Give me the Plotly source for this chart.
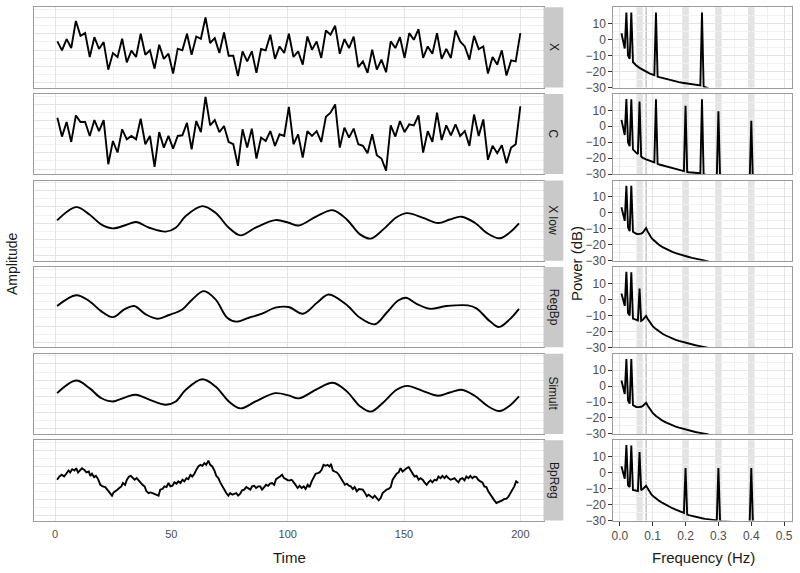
import plotly.graph_objects as go

# ---------------- data ----------------
panel_names = ["X", "C", "X low", "RegBp", "Simult", "BpReg"]

time_101 = [round(1 + k * 1.99, 2) for k in range(101)]

x_vals = [0.53, -0.02, 0.67, 0.12, 1.79, 0.87, 1.04, -0.43, 0.79, 0.06,
          0.49, -1.21, -0.19, -0.43, 0.69, -0.76, -0.04, -0.43, 1.00, -0.29,
          -0.02, -1.15, 0.32, -0.55, -0.23, -1.45, 0.08, -0.02, 1.00, -0.29,
          0.83, 0.69, 2.00, 0.43, 0.73, -0.19, 1.08, -0.35, -0.35, -1.61,
          -0.08, -0.70, -0.08, -1.41, 0.06, -0.02, 0.94, -0.55, 0.22, -0.19,
          1.00, -0.43, -0.08, -0.90, 0.83, 0.02, 0.53, -0.49, 1.20, 0.94,
          1.49, -0.23, 0.67, 0.12, 0.83, -1.06, -0.70, -1.41, 0.02, -1.21,
          -0.59, -1.37, 0.53, 0.12, 0.79, -0.49, 1.04, 0.63, 1.28, -0.49,
          0.22, -0.23, 1.04, -0.55, 0.06, -0.49, 1.20, 0.53, 0.22, -0.59,
          0.87, 0.06, 0.22, -1.45, -0.43, -0.90, -0.02, -1.57, -0.64, -0.70,
          1.04]

c_vals = [1.16, 0.00, 0.90, -0.33, 1.30, 0.90, 0.90, 0.04, 1.02, 0.34,
          1.02, -1.70, -0.27, -0.98, 0.45, -0.17, 0.04, -0.17, 1.10, -0.47,
          0.04, -1.86, 0.28, -0.68, 0.04, -0.74, 0.04, 0.08, 0.85, -0.78,
          0.96, 0.28, 2.45, 0.69, 1.02, 0.28, 0.65, -0.33, -0.47, -1.80,
          0.45, -0.68, 0.49, -1.35, -0.06, -0.27, 0.34, -0.57, 0.14, 0.04,
          1.83, -0.47, 0.14, -1.29, 0.34, 0.04, 0.34, -0.33, 1.22, 1.47,
          1.98, -0.68, 0.55, -0.06, 0.49, -0.47, -0.57, -1.02, 0.14, -1.15,
          -1.35, -2.10, 0.69, 0.00, 0.96, 0.28, 0.75, 0.69, 1.30, -0.98,
          0.34, -0.33, 1.47, -0.21, 0.69, 0.08, 0.75, 0.04, 0.34, -0.57,
          1.36, 0.04, 1.06, -1.43, -0.57, -1.02, -0.53, -1.64, -0.68, -0.47,
          1.87]

smooth_t = [0.9, 9.1, 14.8, 19.8, 24.8, 30.5, 34.8, 40.5, 47.6, 51.9, 56.2, 63.3,
            69.0, 74.7, 79.7, 86.2, 94.7, 100.4, 104.7, 112.6, 119.4, 125.4, 131.1,
            135.7, 141.1, 146.8, 151.4, 158.2, 164.7, 169.7, 174.7, 180.4, 186.1,
            191.1, 195.4, 199.4]
xlow_vals = [0.17, 0.99, 0.54, -0.07, -0.32, -0.11, 0.07, -0.28, -0.52, -0.28, 0.44, 1.05,
             0.64, -0.28, -0.75, -0.28, 0.19, 0.03, -0.14, 0.44, 0.80, 0.23, -0.69,
             -0.95, -0.38, 0.37, 0.62, 0.33, 0.01, 0.23, 0.40, 0.03, -0.65,
             -0.93, -0.58, -0.01]
simult_vals = [0.20, 0.98, 0.51, -0.10, -0.31, -0.04, 0.10, -0.20, -0.51, -0.31, 0.41, 1.06,
               0.61, -0.31, -0.74, -0.31, 0.20, 0.06, -0.12, 0.45, 0.84, 0.31, -0.61,
               -0.94, -0.37, 0.41, 0.65, 0.33, 0.04, 0.24, 0.41, 0.04, -0.61,
               -0.90, -0.57, 0.00]

regbp_t = [0.9, 9.1, 14.8, 19.8, 24.8, 29.8, 34.0, 39.0, 44.0, 49.0, 54.7, 59.0, 64.0,
           69.0, 74.0, 77.9, 83.3, 89.0, 94.7, 100.4, 106.6, 112.6, 117.6, 125.4, 131.1,
           137.5, 142.5, 147.5, 150.8, 155.4, 161.1, 168.2, 177.5, 181.1, 186.8, 190.8,
           195.4, 199.4]
regbp_vals = [0.23, 0.90, 0.53, -0.08, -0.45, 0.02, 0.23, -0.28, -0.55, -0.32, 0.02, 0.64, 1.15,
              0.64, -0.49, -0.73, -0.49, -0.24, 0.13, 0.17, -0.24, 0.43, 0.94, 0.29, -0.49,
              -0.89, -0.18, 0.57, 0.74, 0.37, 0.06, 0.23, 0.27, 0.09, -0.69, -1.06,
              -0.59, 0.06]

bpreg_t = [0.9, 1.9, 2.9, 3.9, 4.8, 5.8, 6.5, 7.4, 8.4, 9.1, 9.9, 10.8, 11.6, 12.6, 13.5, 14.5,
           15.2, 15.9, 16.8, 17.6, 18.5, 19.5, 20.5, 21.6, 22.6, 23.6, 24.5, 25.2, 25.9, 26.8,
           27.6, 28.5, 29.2, 30.1, 30.9, 31.8, 32.6, 33.3, 34.2, 35.1, 35.9, 36.8, 37.6, 38.5,
           39.3, 40.2, 41.0, 41.9, 42.8, 43.6, 44.5, 45.2, 46.2, 47.0, 47.9, 48.8, 49.6, 50.5,
           51.3, 52.2, 53.0, 53.9, 54.8, 55.6, 56.5, 57.3, 58.2, 59.0, 59.9, 60.7, 61.6, 62.5,
           63.3, 64.2, 65.0, 65.9, 66.7, 67.6, 68.5, 69.3, 70.2, 71.0, 71.9, 72.7, 73.6, 74.5,
           75.3, 76.2, 77.0, 77.9, 78.7, 79.6, 80.4, 81.3, 82.2, 83.0, 83.9, 84.7, 85.6, 86.4,
           87.3, 88.2, 89.0, 89.9, 90.7, 91.6, 92.4, 93.3, 94.2, 95.0, 95.9, 96.7, 97.6, 98.4,
           99.3, 100.1,
           100.9, 101.7, 102.6, 103.4, 104.3, 105.1, 106.0, 106.9, 107.7, 108.6, 109.4, 110.3,
           111.1, 112.0, 112.9, 113.7, 114.6, 115.4, 116.3, 117.1, 118.0, 118.6, 119.4, 120.3,
           121.1, 122.0, 122.8, 123.7, 124.6, 125.4, 126.3, 127.1, 128.0, 128.8, 129.7, 130.6,
           131.4, 132.3, 133.1, 134.0, 134.8, 135.7, 136.6, 137.4, 138.3, 139.1, 140.0, 140.8,
           141.7, 142.5, 143.4, 144.3, 145.1, 146.0, 146.8, 147.7, 148.5, 149.4, 150.3, 151.1,
           152.0, 152.8, 153.7, 154.5, 155.4, 156.3, 157.1, 158.0, 158.8, 159.7, 160.5, 161.4,
           162.2, 163.1, 164.0, 164.8, 165.7, 166.5, 167.4, 168.2, 169.1, 170.0, 170.8, 171.7,
           172.5, 173.4, 174.2, 175.1, 176.0, 176.8, 177.7, 178.5, 179.4, 180.2, 181.1, 181.9,
           182.8, 183.7, 184.5, 185.4, 186.2, 187.1, 187.9, 188.8, 189.7, 190.5, 191.4, 192.2,
           193.1, 193.9, 194.8, 195.7, 196.5, 197.4, 198.2, 199.1]
bpreg_vals = [0.20, 0.40, 0.51, 0.40, 0.57, 0.77, 0.65, 0.85, 0.77, 0.91, 0.65, 0.77, 0.91, 0.81,
              0.65, 0.71, 0.44, 0.57, 0.36, 0.44, 0.24, -0.11, -0.21, -0.25, -0.41, -0.62, -0.78,
              -0.58, -0.52, -0.41, -0.31, -0.21, 0.00, -0.11, 0.20, 0.40, 0.44, 0.34, 0.20, 0.30,
              0.16, 0.04, -0.11, -0.21, -0.51, -0.62, -0.58, -0.62, -0.66, -0.72, -0.78, -0.41,
              -0.37, -0.21, -0.25, 0.00, -0.21, -0.17, 0.04, -0.04, 0.10, 0.00, 0.20, 0.10, 0.30,
              0.24, 0.51, 0.40, 0.57, 0.81, 1.02, 1.12, 1.06, 1.22, 1.12, 1.38, 1.12, 1.02, 0.77,
              0.44, 0.30, 0.04, -0.21, -0.41, -0.62, -0.78, -0.62, -0.72, -0.66, -0.62, -0.78,
              -0.66, -0.45, -0.41, -0.25, -0.31, -0.41, -0.21, -0.17, -0.31, -0.21, -0.21, -0.41,
              -0.25, -0.11, -0.17, -0.04, 0.00, -0.11, 0.24, 0.30, 0.40, 0.51, 0.30, 0.24, 0.16,
              0.16, 0.20, 0.04, -0.11, -0.31, -0.17, -0.31, -0.21, -0.37, -0.11, -0.25, 0.10,
              0.30, 0.57, 0.61, 0.65, 0.81, 1.12, 1.06, 1.12, 1.02, 1.18, 0.77, 0.71, 0.65, 0.51,
              0.30, 0.10, -0.11, -0.04, -0.17, -0.21, -0.37, -0.25, -0.51, -0.37, -0.41, -0.41,
              -0.58, -0.82, -0.72, -0.82, -0.92, -0.78, -0.92, -1.07, -0.92, -0.62, -0.51, -0.41,
              -0.37, -0.25, 0.20, 0.40, 0.57, 0.65, 0.91, 0.71, 0.85, 0.91, 0.98, 0.81, 0.61,
              0.40, 0.44, 0.20, 0.30, 0.20, 0.04, -0.11, 0.04, 0.16, 0.04, 0.20, 0.16, 0.40, 0.30,
              0.44, 0.30, 0.44, 0.30, 0.20, 0.24, 0.30, 0.16, 0.04, 0.24, 0.30, 0.16, 0.40, 0.30,
              0.44, 0.30, 0.40, 0.36, 0.20, 0.10, 0.04, -0.21, -0.25, -0.51, -0.72, -0.82, -1.07,
              -1.23, -1.19, -1.13, -1.07, -0.98, -0.98, -0.86, -0.62, -0.41, -0.21, 0.10, 0.00]

# spectra (frequency in Hz, power in dB)
f_x = [0.005, 0.01, 0.015, 0.02, 0.025, 0.03, 0.035, 0.04, 0.045, 0.05, 0.06, 0.07, 0.08,
       0.09, 0.1, 0.105, 0.11, 0.115, 0.12, 0.13, 0.14, 0.15, 0.16, 0.17, 0.18, 0.19, 0.2,
       0.21, 0.22, 0.23, 0.24, 0.245, 0.25, 0.255, 0.26, 0.265, 0.27]
p_x = [4.0, -1.0, -5.5, 17.0, -10.0, -12.0, 17.0, -14.0, -15.2, -16.2, -17.7, -19.0, -20.1,
       -21.1, -21.9, -22.3, 17.0, -23.2, -23.5, -24.1, -24.7, -25.2, -25.7, -26.2, -26.6, -27.0,
       -27.4, -27.7, -28.0, -28.3, -28.6, -28.7, 17.0, -29.4, -29.8, -30.2, -30.6]

f_c = [0.005, 0.01, 0.015, 0.02, 0.025, 0.03, 0.035, 0.04, 0.045, 0.05, 0.055, 0.06, 0.065,
       0.07, 0.08, 0.09, 0.1, 0.105, 0.11, 0.115, 0.12, 0.13, 0.14, 0.15, 0.16, 0.17, 0.18,
       0.19, 0.195, 0.2, 0.205, 0.21, 0.22, 0.23, 0.24, 0.245, 0.25, 0.255, 0.26, 0.27, 0.28,
       0.29, 0.295, 0.3, 0.305, 0.31, 0.35, 0.39, 0.395, 0.4, 0.405, 0.41]
p_c = [4.0, -1.0, -5.5, 17.0, -10.0, -12.5, 17.0, -14.5, -15.8, -16.7, -17.4, 15.5, -19.0,
       -19.8, -20.8, -21.7, -22.4, -22.7, 17.0, -23.6, -24.0, -24.6, -25.2, -25.8, -26.3,
       -26.8, -27.3, -27.8, -28.1, 12.9, -28.6, -28.8, -29.0, -29.2, -29.4, -29.5, 17.0,
       -30.2, -30.4, -30.8, -31.2, -31.5, -31.7, 9.4, -32.0, -32.2, -33.5, -34.5, -34.6, 3.4,
       -34.8, -35.0]

f_low = [0.005, 0.01, 0.015, 0.02, 0.025, 0.03, 0.035, 0.04, 0.045, 0.05, 0.055, 0.06, 0.065,
         0.07, 0.075, 0.08, 0.085, 0.09, 0.095, 0.1, 0.11, 0.12, 0.13, 0.14, 0.15, 0.16, 0.17,
         0.18, 0.19, 0.2, 0.21, 0.22, 0.23, 0.24, 0.25, 0.26, 0.27]
p_xlow = [3.5, -1.0, -5.0, 17.0, -9.0, -11.5, 17.0, -11.8, -12.6, -13.1, -13.3, -13.3, -13.0,
          -12.3, -11.2, -9.6, -11.8, -13.8, -15.3, -16.6, -18.6, -20.2, -21.5, -22.6, -23.6,
          -24.5, -25.3, -26.0, -26.6, -27.2, -27.7, -28.2, -28.7, -29.1, -29.6, -30.0, -30.4]
p_regbp = [3.7, -0.5, -4.0, 17.3, -8.5, -10.0, 17.0, -12.0, -12.5, -12.9, -13.2, 6.8, -13.4,
           -12.8, -11.8, -10.3, -12.2, -14.0, -15.4, -16.7, -18.6, -20.2, -21.5, -22.6, -23.6,
           -24.5, -25.3, -26.0, -26.6, -27.2, -27.7, -28.2, -28.7, -29.1, -29.6, -30.0, -30.4]
p_simult = [3.5, -1.0, -5.0, 17.0, -9.0, -11.0, 17.0, -12.0, -12.7, -13.1, -13.2, -13.2, -13.0,
            -12.5, -11.7, -10.5, -12.3, -14.1, -15.6, -16.8, -18.8, -20.4, -21.7, -22.8, -23.8,
            -24.6, -25.4, -26.1, -26.7, -27.3, -27.8, -28.3, -28.8, -29.2, -29.6, -30.0, -30.4]

f_bpreg = [0.005, 0.01, 0.015, 0.02, 0.025, 0.03, 0.035, 0.04, 0.045, 0.05, 0.055, 0.06, 0.065,
           0.07, 0.075, 0.08, 0.085, 0.09, 0.095, 0.1, 0.11, 0.12, 0.13, 0.14, 0.15, 0.16, 0.17,
           0.18, 0.19, 0.195, 0.2, 0.205, 0.21, 0.22, 0.23, 0.24, 0.25, 0.26, 0.27, 0.28, 0.29,
           0.295, 0.3, 0.305, 0.31, 0.35, 0.39, 0.395, 0.4, 0.405, 0.41]
p_bpreg = [4.0, -0.5, -3.8, 17.3, -8.0, -9.0, 17.0, -10.8, -11.2, -11.5, -11.5, 12.9, -11.0,
           -10.2, -9.2, -8.2, -10.0, -12.0, -13.3, -14.5, -16.2, -17.7, -19.0, -20.2, -21.3,
           -22.3, -23.2, -24.0, -24.8, -25.2, 2.9, -26.3, -26.6, -27.2, -27.7, -28.2, -28.6,
           -29.0, -29.3, -29.6, -29.8, -29.9, 2.9, -30.3, -30.4, -31.0, -31.6, -31.7, 2.9,
           -31.8, -31.9]

left_series = [(time_101, x_vals, "linear"), (time_101, c_vals, "linear"),
               (smooth_t, xlow_vals, "spline"), (regbp_t, regbp_vals, "spline"),
               (smooth_t, simult_vals, "spline"), (bpreg_t, bpreg_vals, "linear")]
right_series = [(f_x, p_x), (f_c, p_c), (f_low, p_xlow), (f_low, p_regbp),
                (f_low, p_simult), (f_bpreg, p_bpreg)]

band_ranges = [(0.05, 0.07), (0.19, 0.21), (0.29, 0.31), (0.39, 0.41)]
marker_freq = 0.08

time_ticks = [0, 50, 100, 150, 200]
freq_ticks = [0.0, 0.1, 0.2, 0.3, 0.4, 0.5]
freq_ticklabels = ["0.0", "0.1", "0.2", "0.3", "0.4", "0.5"]
power_ticks = [10, 0, -10, -20, -30]

# ---------------- layout ----------------
W, H = 800, 573
FONT = "Liberation Sans, Arial, sans-serif"


def px_x(p):
    return p / W


def px_y(p):
    return 1 - p / H


row_top0, row_pitch, row_h = 7.3, 86.6, 80.2
left_dom = [px_x(34.2), px_x(543.5)]
right_dom = [px_x(613.3), px_x(792.3)]
strip_x = (543.5, 563.3)

fig = go.Figure()
layout = dict(width=W, height=H, margin=dict(l=0, r=0, t=0, b=0, autoexpand=False),
              paper_bgcolor="white", plot_bgcolor="white", showlegend=False,
              font=dict(family=FONT, color="#333333"))
shapes, annotations = [], []

grid_major = "#e4e4e4"
grid_minor = "#f1f1f1"
border = "#9b9b9b"

for i, name in enumerate(panel_names):
    top = row_top0 + i * row_pitch
    bot = top + row_h
    ydom = [px_y(bot), px_y(top)]
    li, ri = 2 * i + 1, 2 * i + 2
    lk = "" if li == 1 else str(li)
    rk = str(ri)
    last = (i == len(panel_names) - 1)

    layout["xaxis" + lk] = dict(domain=left_dom, anchor="y" + lk, range=[-8.95, 209.95],
                                tickvals=time_ticks, showticklabels=last, ticks="outside",
                                ticklen=3, tickcolor="rgba(0,0,0,0)",
                                showgrid=True, gridcolor=grid_major, gridwidth=1,
                                minor=dict(dtick=25, tick0=0, showgrid=True, gridcolor=grid_minor),
                                zeroline=False, showline=True, mirror=True, linecolor=border,
                                linewidth=1, tickfont=dict(size=11, color="#4d4d4d"),
                                automargin=False)
    layout["yaxis" + lk] = dict(domain=ydom, anchor="x" + lk, range=[-2.31, 2.63],
                                tick0=0, dtick=1, showticklabels=False, ticks="",
                                showgrid=True, gridcolor=grid_major,
                                minor=dict(dtick=0.5, tick0=0, showgrid=True, gridcolor=grid_minor),
                                zeroline=False, showline=True, mirror=True, linecolor=border,
                                linewidth=1, automargin=False)
    layout["xaxis" + rk] = dict(domain=right_dom, anchor="y" + rk, range=[-0.0198, 0.5248],
                                tickvals=freq_ticks, ticktext=freq_ticklabels,
                                showticklabels=last, ticks="outside" if last else "",
                                ticklen=4, tickcolor="#333333",
                                showgrid=True, gridcolor=grid_major,
                                minor=dict(dtick=0.05, tick0=0, showgrid=True, gridcolor=grid_minor),
                                zeroline=False, showline=True, mirror=True, linecolor=border,
                                linewidth=1, tickfont=dict(size=12, color="#4d4d4d"),
                                automargin=False)
    layout["yaxis" + rk] = dict(domain=ydom, anchor="x" + rk, range=[-30, 20.3],
                                tickvals=power_ticks, ticks="outside", ticklen=4,
                                tickcolor="#333333", showgrid=True, gridcolor=grid_major,
                                minor=dict(dtick=5, tick0=0, showgrid=True, gridcolor=grid_minor),
                                zeroline=False, showline=True, mirror=True, linecolor=border,
                                linewidth=1, tickfont=dict(size=12, color="#4d4d4d"),
                                automargin=False)

    # data traces
    tx, ty, shp = left_series[i]
    fig.add_trace(go.Scatter(x=tx, y=ty, mode="lines",
                             line=dict(color="black", width=1.9, shape=shp, smoothing=1.0),
                             xaxis="x" + lk, yaxis="y" + lk, hoverinfo="skip"))
    fx, fp = right_series[i]
    fig.add_trace(go.Scatter(x=fx, y=fp, mode="lines", line=dict(color="black", width=1.9),
                             xaxis="x" + rk, yaxis="y" + rk, hoverinfo="skip"))

    # frequency bands and marker line
    for (a, b) in band_ranges:
        shapes.append(dict(type="rect", xref="x" + rk, yref="y" + rk + " domain",
                           x0=a, x1=b, y0=0, y1=1, fillcolor="#e4e4e4",
                           line=dict(width=0), layer="below"))
    shapes.append(dict(type="line", xref="x" + rk, yref="y" + rk + " domain",
                       x0=marker_freq, x1=marker_freq, y0=0, y1=1,
                       line=dict(color="#a8a8a8", width=1), layer="below"))

    # strip
    shapes.append(dict(type="rect", xref="paper", yref="paper",
                       x0=px_x(strip_x[0]), x1=px_x(strip_x[1]), y0=ydom[0], y1=ydom[1],
                       fillcolor="#c9c9c9", line=dict(width=0)))
    annotations.append(dict(xref="paper", yref="paper", x=px_x(sum(strip_x) / 2),
                            y=(ydom[0] + ydom[1]) / 2, text=name, textangle=90,
                            xanchor="center", yanchor="middle",
                            showarrow=False, font=dict(size=12, color="#1a1a1a")))

# axis titles
title_font = dict(size=15, color="#1a1a1a")
annotations += [
    dict(xref="paper", yref="paper", x=px_x(289), y=px_y(557), text="Time",
         xanchor="center", yanchor="middle", showarrow=False, font=title_font),
    dict(xref="paper", yref="paper", x=px_x(703), y=px_y(557), text="Frequency (Hz)",
         xanchor="center", yanchor="middle", showarrow=False, font=title_font),
    dict(xref="paper", yref="paper", x=px_x(12), y=px_y(264), text="Amplitude",
         xanchor="center", yanchor="middle", textangle=-90, showarrow=False,
         font=dict(size=14, color="#1a1a1a")),
    dict(xref="paper", yref="paper", x=px_x(576), y=px_y(264), text="Power (dB)",
         xanchor="center", yanchor="middle", textangle=-90, showarrow=False, font=title_font),
]

layout["shapes"] = shapes
layout["annotations"] = annotations
fig.update_layout(**layout)
fig.write_html("out.html", config={"displayModeBar": False},
               post_script="document.body.style.margin='0';document.body.style.padding='0';")
